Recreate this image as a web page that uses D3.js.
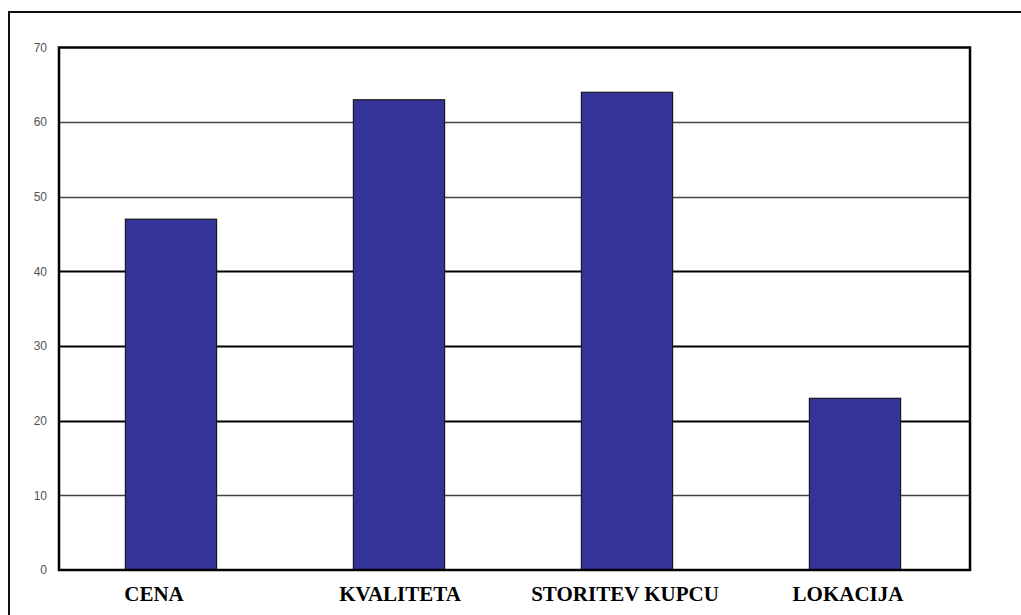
<!DOCTYPE html>
<html>
<head>
<meta charset="utf-8">
<script src="https://cdn.jsdelivr.net/npm/d3@7"></script>
<style>
  html, body { margin: 0; padding: 0; background: #fff; }
  svg { display: block; }
</style>
</head>
<body>
<svg id="chart" width="1021" height="615"></svg>
<script>
// Survey factors and their scores
const categories = ["CENA", "KVALITETA", "STORITEV KUPCU", "LOKACIJA"];
const values = [47, 63, 64, 23];
const yTicks = [0, 10, 20, 30, 40, 50, 60, 70];

(function draw() {
  const svg = d3.select("#chart");
  const W = 1021, H = 615;

  // plot frame
  const plotLeft = 59, plotRight = 970, plotTop = 47.5, plotBottom = 570;

  // outer page frame (runs off the right and bottom edge)
  svg.append("rect")
    .attr("x", 9).attr("y", 12)
    .attr("width", W + 10).attr("height", H + 10)
    .attr("fill", "#fff")
    .attr("stroke", "#111").attr("stroke-width", 2);

  const x = d3.scaleBand()
    .domain(categories)
    .range([57, 969])
    .paddingInner(0.6)
    .paddingOuter(0.3);

  const y = d3.scaleLinear()
    .domain([0, 70])
    .range([plotBottom, plotTop]);

  // horizontal gridlines
  svg.append("g")
    .selectAll("line")
    .data(yTicks.filter(d => d > 0 && d < 70))
    .join("line")
    .attr("x1", plotLeft).attr("x2", plotRight)
    .attr("y1", d => Math.round(y(d)) + 0.5)
    .attr("y2", d => Math.round(y(d)) + 0.5)
    .attr("stroke", d => (d >= 20 && d <= 40) ? "#000" : "#444")
    .attr("stroke-width", d => (d >= 20 && d <= 40) ? 2 : 1.3);

  // bars
  svg.append("g")
    .selectAll("rect")
    .data(values)
    .join("rect")
    .attr("x", (d, i) => x(categories[i]))
    .attr("y", d => y(d))
    .attr("width", x.bandwidth())
    .attr("height", d => y(0) - y(d))
    .attr("fill", "#333399")
    .attr("stroke", "#1a1a1a")
    .attr("stroke-width", 1.2);

  // plot frame
  svg.append("rect")
    .attr("x", plotLeft).attr("y", plotTop)
    .attr("width", plotRight - plotLeft).attr("height", plotBottom - plotTop)
    .attr("fill", "none")
    .attr("stroke", "#000")
    .attr("stroke-width", 2.5);

  // y axis labels
  const yAxis = d3.axisLeft(y)
    .tickValues(yTicks)
    .tickSize(0)
    .tickPadding(12)
    .tickFormat(d3.format("d"));

  const gy = svg.append("g")
    .attr("transform", `translate(${plotLeft},0)`)
    .call(yAxis);
  gy.select(".domain").remove();
  gy.selectAll("text")
    .attr("font-family", "Liberation Sans, Arial, sans-serif")
    .attr("font-size", 12)
    .attr("fill", "#555");

  // category labels
  const labelShift = [-17, 1, -2, -7];
  const xAxis = d3.axisBottom(x).tickSize(0).tickPadding(0);
  const gx = svg.append("g")
    .attr("transform", `translate(0,${plotBottom})`)
    .call(xAxis);
  gx.select(".domain").remove();
  gx.selectAll("text")
    .attr("y", 0)
    .attr("dy", 0)
    .attr("transform", (d, i) => `translate(${labelShift[i]},31)`)
    .attr("font-family", "Liberation Serif, Times New Roman, serif")
    .attr("font-weight", "bold")
    .attr("font-size", 21)
    .attr("fill", "#000");
})();
</script>
</body>
</html>
